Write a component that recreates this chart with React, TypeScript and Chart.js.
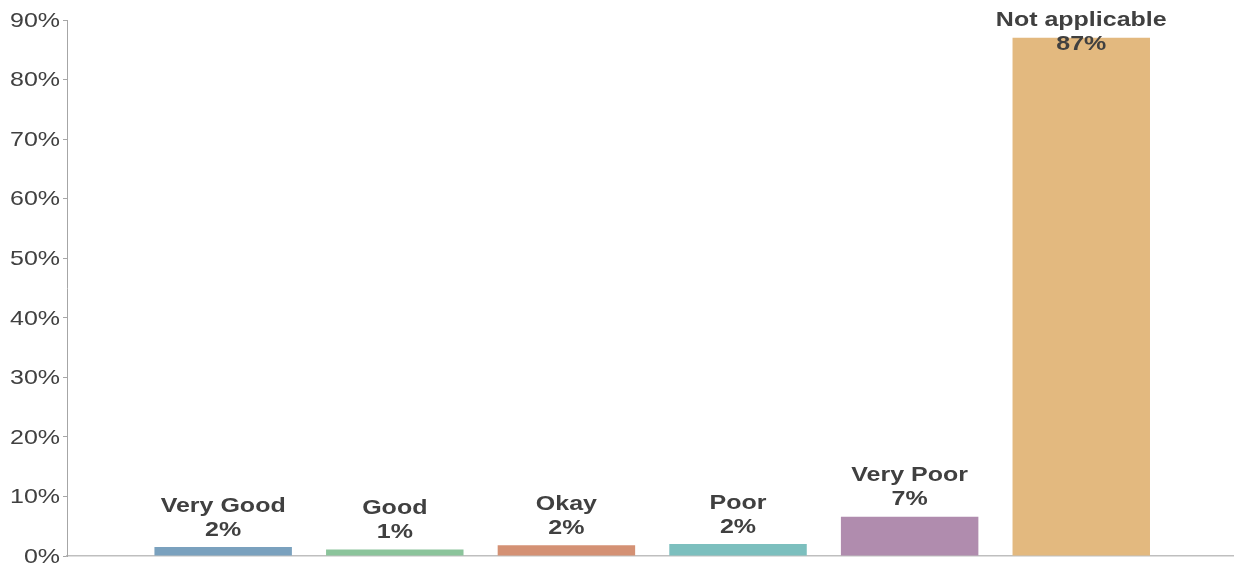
import React, { useEffect, useRef } from "react";
import { Chart, registerables } from "chart.js";

Chart.register(...registerables);

const categories = ["Very Good", "Good", "Okay", "Poor", "Very Poor", "Not applicable"];
const values = [1.5, 1.1, 1.8, 2.0, 6.6, 87.0];
const valueLabels = ["2%", "1%", "2%", "2%", "7%", "87%"];
const colors = ["#7aa1be", "#8bc49b", "#d49174", "#7cbfbe", "#b08cae", "#e3b97f"];
const yTicks = [0, 10, 20, 30, 40, 50, 60, 70, 80, 90];

const FONT = "'Liberation Sans', Arial, sans-serif";
const STRETCH = 1.19;

function stretchedText(ctx: any, text: string, x: number, y: number, align: string) {
  ctx.save();
  ctx.translate(x, y);
  ctx.scale(STRETCH, 1);
  ctx.textAlign = align;
  ctx.fillText(text, 0, 0);
  ctx.restore();
}

const labelPlugin = {
  id: "barLabels",
  afterDraw(chart: any) {
    const ctx = chart.ctx;
    const meta = chart.getDatasetMeta(0);
    ctx.save();
    ctx.fillStyle = "#404040";
    ctx.font = `bold 21px ${FONT}`;
    ctx.textBaseline = "middle";
    meta.data.forEach((bar: any, i: number) => {
      let y1 = bar.y - 41;
      if (y1 < 20) y1 = 20;
      const y2 = y1 + 24;
      stretchedText(ctx, categories[i], bar.x, y1, "center");
      stretchedText(ctx, valueLabels[i], bar.x, y2, "center");
    });
    // y tick labels
    const ys = chart.scales.y;
    ctx.fillStyle = "#404040";
    ctx.font = `21px ${FONT}`;
    yTicks.forEach((v) => {
      stretchedText(ctx, `${v}%`, ys.left + ys.width - 7, ys.getPixelForValue(v) + 1, "right");
    });
    ctx.restore();
  },
};

export default function App() {
  const ref = useRef<HTMLCanvasElement | null>(null);
  useEffect(() => {
    if (!ref.current) return;
    const chart = new Chart(ref.current, {
      type: "bar",
      data: {
        datasets: [
          {
            data: values.map((v, i) => ({ x: i, y: v })),
            backgroundColor: colors,
            borderWidth: 0,
            barPercentage: 0.9,
            categoryPercentage: 1,
          },
        ],
      },
      options: {
        animation: false,
        responsive: false,
        layout: { padding: { top: 20, bottom: 9, left: 0, right: 0 } },
        plugins: { legend: { display: false }, tooltip: { enabled: false } },
        scales: {
          x: {
            type: "linear",
            offset: false,
            min: -0.91,
            max: 5.89,
            ticks: { display: false },
            grid: { display: false },
            border: { display: true, color: "#bfbfbf", width: 1.5 },
            afterFit: (s: any) => {
              s.height = 0;
            },
          },
          y: {
            min: 0,
            max: 90,
            afterBuildTicks: (s: any) => {
              s.ticks = yTicks.map((v) => ({ value: v }));
            },
            ticks: { display: false },
            grid: { drawOnChartArea: false, drawTicks: true, tickLength: 4, color: "#a6a6a6" },
            border: { display: true, color: "#a6a6a6", width: 1 },
            afterFit: (s: any) => {
              s.width = 67;
            },
          },
        },
      },
      plugins: [labelPlugin],
    } as any);
    return () => chart.destroy();
  }, []);
  return (
    <div style={{ position: "fixed", left: 0, top: 0, width: 1234, height: 565, background: "#fff" }}>
      <canvas ref={ref} width={1234} height={565} style={{ display: "block" }} />
    </div>
  );
}
